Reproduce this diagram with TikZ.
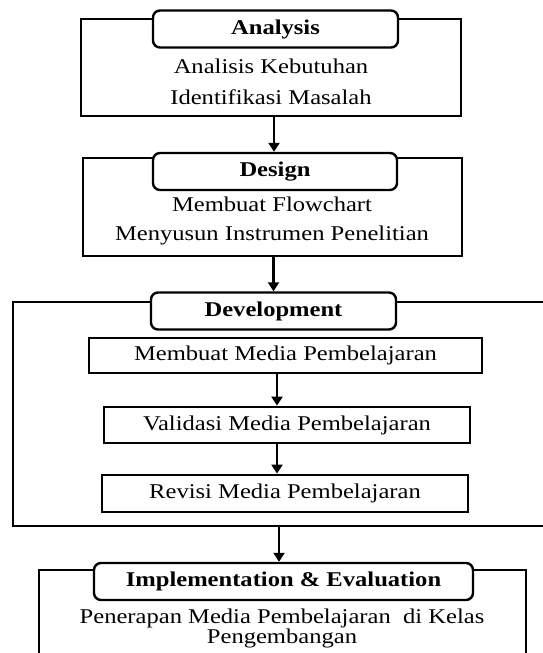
\documentclass[tikz,border=0pt]{standalone}
\usepackage{fontspec}
\setmainfont{Liberation Serif}[FakeStretch=1.17]
\usetikzlibrary{arrows.meta,calc}
\tikzstyle{phase}=[draw,rectangle,line width=2.8pt,inner sep=0pt]
\tikzstyle{title}=[draw,rectangle,rounded corners=7pt,line width=2.4pt,fill=white,inner sep=0pt,minimum height=37pt,font=\bfseries\fontsize{21}{24}\selectfont]
\tikzstyle{task}=[draw,rectangle,line width=2.8pt,fill=white,inner sep=0pt,font=\fontsize{21}{24}\selectfont]
\tikzstyle{txt}=[inner sep=0pt,font=\fontsize{21}{24}\selectfont]
\tikzstyle{flow}=[draw,line width=2.2pt,-{Triangle[length=9pt,width=11pt]}]

\begin{document}
\begin{tikzpicture}[x=1pt,y=-1pt]
    \useasboundingbox (0,0) rectangle (543,653);
    \clip (0,0) rectangle (543,653);

    % First the outer box of every phase
    \foreach \pos/\w/\h/\name in {{(271,67.5)/380/97/ana},{(272.5,207)/379/98/des},{(290,414)/554/224/dev},{(282.5,630)/487/120/imp}}
        \node[phase,minimum width=\w pt,minimum height=\h pt] (\name) at \pos {};

    % Then the rounded titles on top of them
    \foreach \pos/\w/\name/\text in {{(275.5,29)/245/anat/Analysis},{(275,171.5)/244/dest/Design},{(273.5,311)/245/devt/Development},{(283.5,581.5)/379/impt/Implementation \& Evaluation}}
        \node[title,minimum width=\w pt] (\name) at \pos {\text};

    % Texts inside the phases
    \node[txt] (butuh) at (271,66) {Analisis Kebutuhan};
    \node[txt] (masalah) at (271,97) {Identifikasi Masalah};
    \node[txt] (flowchart) at (272,204) {Membuat Flowchart};
    \node[txt] (instrumen) at (272,235) {Menyusun Instrumen Penelitian};
    \node[txt,align=center,font=\fontsize{21}{20}\selectfont] (terap) at (282,628) {Penerapan Media Pembelajaran~ di Kelas\\Pengembangan};

    % Steps of the development
    \node[task,minimum width=393pt,minimum height=35pt] (buat) at (285.5,355.5) {Membuat Media Pembelajaran};
    \node[task,minimum width=366pt,minimum height=36pt] (valid) at (287,425) {Validasi Media Pembelajaran};
    \node[task,minimum width=366pt,minimum height=37pt] (revisi) at (285,493.5) {Revisi Media Pembelajaran};

    % Connect them with arrows
    \foreach \source/\dest/\x in {ana/dest/274, des/devt/273.5, dev/impt/279, buat/valid/277, valid/revisi/277}
        \path[flow] (\x,0 |- \source.south) -- (\x,0 |- \dest.north);

\end{tikzpicture}
\end{document}
